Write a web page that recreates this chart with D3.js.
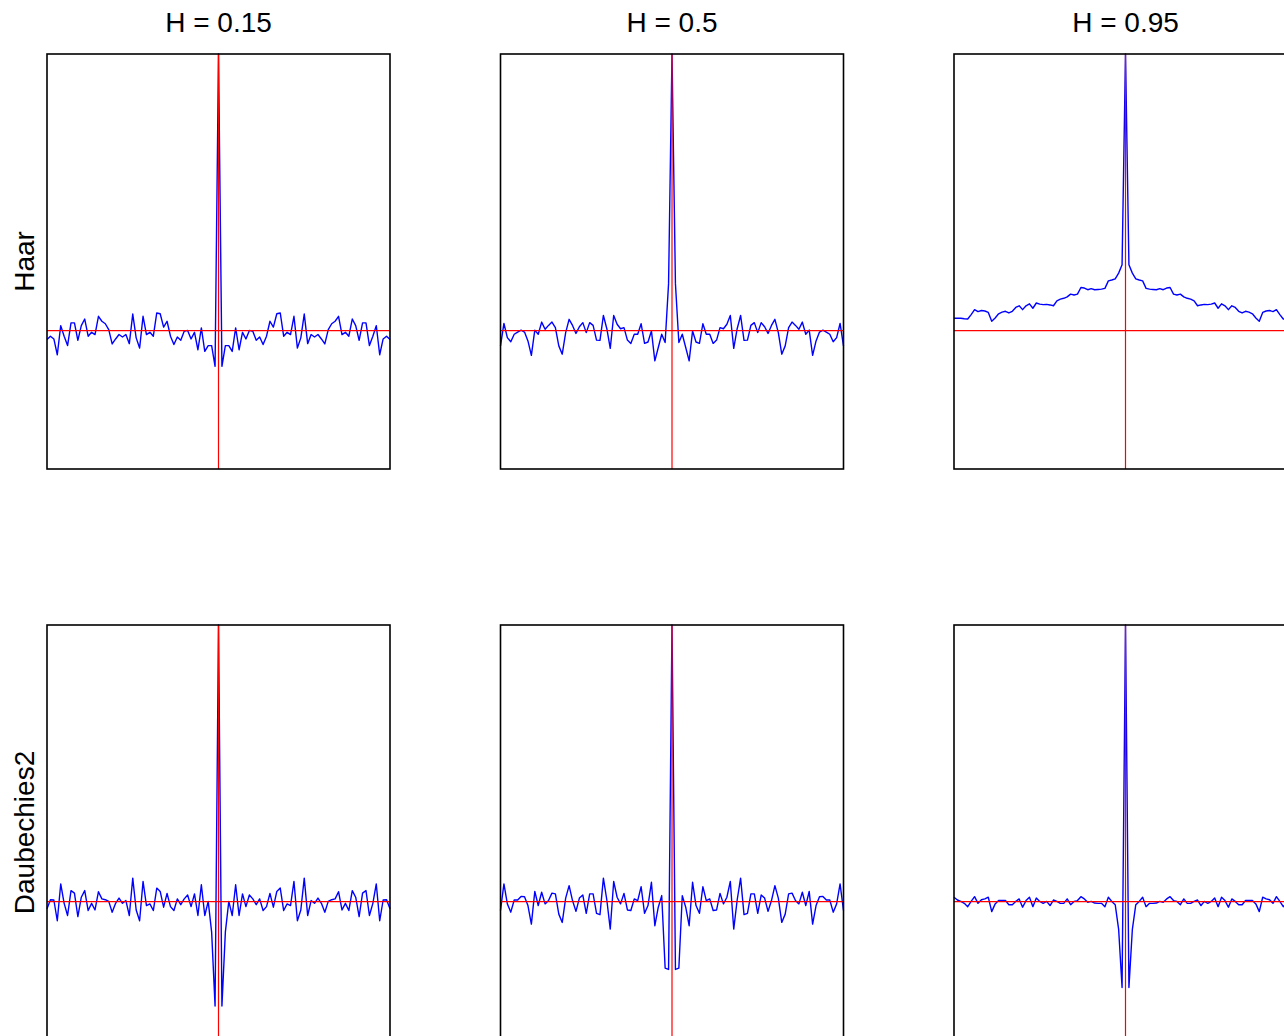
<!DOCTYPE html>
<html>
<head>
<meta charset="utf-8">
<script src="https://cdn.jsdelivr.net/npm/d3@7"></script>
<style>
  html, body { margin: 0; padding: 0; background: #fff; }
  svg { display: block; }
  text { font-family: "Liberation Sans", Arial, sans-serif; fill: #000; }
</style>
</head>
<body>
<svg id="chart" width="1284" height="1036"></svg>
<script>
// ---- data (autocorrelation at lags 0..50; plotted at both -lag and +lag) ----
const columnTitles = ["H = 0.15", "H = 0.5", "H = 0.95"];
const rowLabels = ["Haar", "Daubechies2"];
const maxLag = 50;

const haarH015 = [1, -0.129, -0.054, -0.054, -0.075, 0.01, -0.069, -0.006, -0.03, 0.001,
  -0.002, -0.035, -0.023, -0.05, -0.02, 0.034, 0.013, 0.061, 0.064, -0.02,
  -0.006, -0.014, 0.052, -0.063, -0.026, 0.06, -0.047, -0.014, -0.023, -0.014,
  -0.03, -0.048, 0.004, 0.025, 0.034, 0.052, -0.014, -0.006, -0.02, 0.042,
  0.018, -0.035, 0.028, 0.028, -0.054, -0.02, 0.018, -0.087, -0.03, -0.02, -0.032];

const haarH05 = [1, 0.17, -0.043, -0.013, -0.061, -0.109, -0.001, -0.041, -0.046, 0.025,
  -0.013, -0.013, -0.046, -0.034, 0.011, 0.007, 0.023, 0.055, -0.064, 0.007,
  0.055, -0.035, -0.034, 0.019, 0.029, -0.007, 0.029, 0.014, -0.01, 0.019,
  0.041, -0.007, -0.085, -0.055, 0.011, 0.031, 0.019, 0.005, 0.031, -0.013,
  0.002, -0.089, -0.037, -0.005, 0.002, -0.005, -0.013, -0.04, -0.025, 0.026, -0.055];

const haarH095 = [1, 0.238, 0.208, 0.187, 0.183, 0.18, 0.153, 0.15, 0.149, 0.148,
  0.152, 0.148, 0.154, 0.156, 0.132, 0.129, 0.132, 0.122, 0.117, 0.114,
  0.108, 0.09, 0.093, 0.095, 0.094, 0.096, 0.1, 0.081, 0.097, 0.09,
  0.076, 0.09, 0.084, 0.07, 0.064, 0.07, 0.067, 0.061, 0.046, 0.034,
  0.066, 0.071, 0.073, 0.069, 0.076, 0.058, 0.042, 0.043, 0.045, 0.045, 0.045];

const daubH015 = [1, -0.377, -0.11, 0.001, -0.05, 0.061, -0.05, 0.028, -0.018, 0.024,
  0.01, -0.011, 0.01, -0.032, -0.018, 0.03, -0.02, 0.037, 0.049, -0.032,
  -0.008, -0.014, 0.073, -0.069, -0.03, 0.085, -0.05, 0.004, -0.006, 0.013,
  -0.006, -0.038, 0.001, 0.007, 0.01, 0.036, -0.03, -0.006, -0.032, 0.04,
  0.016, -0.054, 0.031, 0.04, -0.05, -0.006, 0.064, -0.069, 0.006, 0.007, -0.026];

const daubH05 = [1, -0.245, -0.24, 0.022, -0.02, -0.087, 0.07, -0.014, -0.042, 0.054,
  0.004, 0.01, -0.032, -0.03, 0.03, -0.008, 0.016, 0.073, -0.099, 0.006,
  0.085, -0.047, -0.042, 0.028, 0.028, -0.042, 0.024, 0.013, -0.035, 0.004,
  0.058, 0.013, -0.075, -0.045, 0.028, 0.031, 0.004, -0.008, 0.034, -0.014,
  0.037, -0.081, -0.014, 0.018, 0.019, 0.006, 0.006, -0.038, -0.008, 0.064, -0.032];

const daubH095 = [1, -0.31, -0.1, -0.011, 0.001, 0.016, -0.018, -0.006, -0.006, -0.005,
  0.001, -0.002, 0.01, 0.018, 0.004, 0.001, -0.011, 0.01, -0.006, -0.006,
  0.001, 0.006, -0.014, 0.001, -0.006, 0.001, 0.013, -0.018, 0.016, 0.004,
  -0.02, 0.01, 0.001, -0.011, -0.011, 0.004, 0.004, 0.004, -0.008, -0.036,
  0.016, 0.01, 0.007, -0.006, 0.018, 0.001, -0.018, -0.006, 0.001, 0.006, 0.016];

const panelSeries = [
  [haarH015, haarH05, haarH095],
  [daubH015, daubH05, daubH095]
];

const yDomain = [-0.5, 1];

// ---- layout ----
const svg = d3.select("#chart");
const colLeft = [47, 500.5, 954];
const rowTop = [54, 625];
const panelW = 343, panelH = 415;

const lags = d3.range(-maxLag, maxLag + 1);

panelSeries.forEach((row, r) => {
  row.forEach((acf, c) => {
    const x0 = colLeft[c], y0 = rowTop[r];
    const x = d3.scaleLinear().domain([-maxLag, maxLag]).range([x0, x0 + panelW]);
    const y = d3.scaleLinear().domain(yDomain).range([y0 + panelH, y0]);
    const g = svg.append("g");

    const line = d3.line()
      .x(d => x(d.lag))
      .y(d => y(d.v));
    const pts = lags.map(l => ({ lag: l, v: acf[Math.abs(l)] }));

    g.append("path")
      .datum(pts)
      .attr("d", line)
      .attr("fill", "none")
      .attr("stroke", "#0000ff")
      .attr("stroke-width", 1.4)
      .attr("stroke-linejoin", "round");

    // reference lines at 0
    g.append("line")
      .attr("x1", x0).attr("x2", x0 + panelW)
      .attr("y1", y(0)).attr("y2", y(0))
      .attr("stroke", "#ff0000").attr("stroke-width", 1.2);
    g.append("line")
      .attr("x1", x(0)).attr("x2", x(0))
      .attr("y1", y0).attr("y2", y0 + panelH)
      .attr("stroke", "#ff0000").attr("stroke-width", 1.2);

    // box
    g.append("rect")
      .attr("x", x0).attr("y", y0)
      .attr("width", panelW).attr("height", panelH)
      .attr("fill", "none")
      .attr("stroke", "#000").attr("stroke-width", 1.6);

    if (r === 0) {
      svg.append("text")
        .attr("x", x0 + panelW / 2)
        .attr("y", 32)
        .attr("text-anchor", "middle")
        .style("font-size", "28px")
        .text(columnTitles[c]);
    }
    if (c === 0) {
      svg.append("text")
        .attr("transform", `translate(34,${y0 + panelH / 2}) rotate(-90)`)
        .attr("text-anchor", "middle")
        .style("font-size", "28px")
        .text(rowLabels[r]);
    }
  });
});
</script>
</body>
</html>
